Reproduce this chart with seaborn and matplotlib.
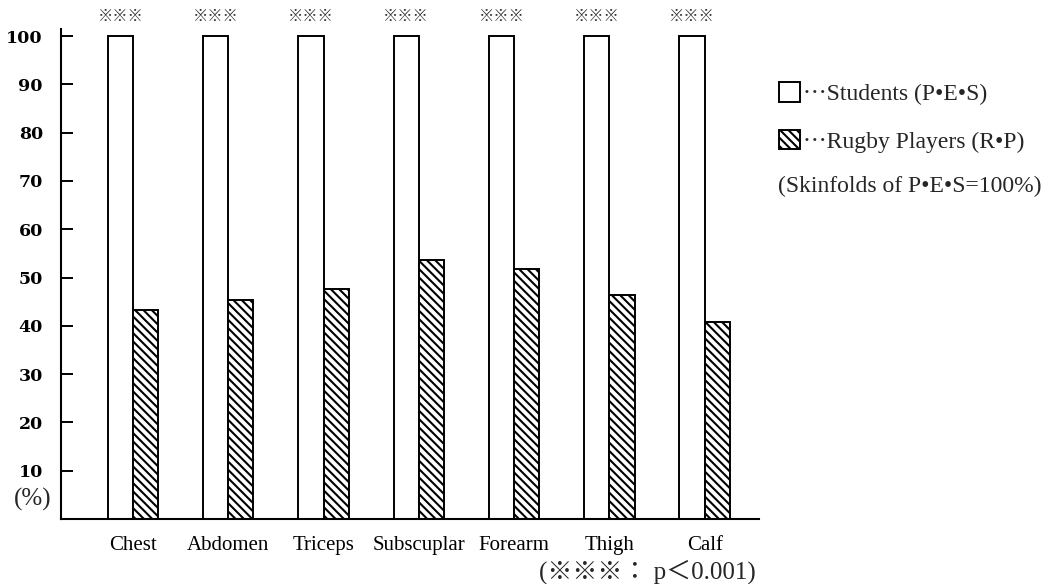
import matplotlib
matplotlib.use("Agg")
import matplotlib.pyplot as plt
import seaborn as sns
import pandas as pd

# Skinfold thickness of rugby players relative to P.E. students (= 100 %)
sites = ["Chest", "Abdomen", "Triceps", "Subscuplar", "Forearm", "Thigh", "Calf"]
students = [100, 100, 100, 100, 100, 100, 100]
rugby = [43.2, 45.4, 47.6, 53.6, 51.8, 46.3, 40.7]
y_ticks = [10, 20, 30, 40, 50, 60, 70, 80, 90, 100]
group_labels = ["\u22efStudents (P\u2022E\u2022S)", "\u22efRugby Players (R\u2022P)"]
note_ratio = "(Skinfolds of P\u2022E\u2022S=100%)"
note_sig = "(\u203b\u203b\u203b\uff1a p\uff1c0.001)"
sig_mark = "\u203b\u203b\u203b"
unit_label = "(%)"

df = pd.DataFrame({
    "site": sites * 2,
    "value": students + rugby,
    "group": [group_labels[0]] * len(sites) + [group_labels[1]] * len(sites),
})

sns.set_theme(style="white")
plt.rcParams["font.family"] = ["Liberation Serif", "DejaVu Serif", "Noto Sans CJK JP"]
plt.rcParams["hatch.linewidth"] = 1.5

W, H = 1062, 584
fig = plt.figure(figsize=(W / 100, H / 100), dpi=100)
ax = fig.add_axes([61 / W, (H - 519) / H, (759 - 61) / W, (519 - 29) / H])

sns.barplot(data=df, x="site", y="value", hue="group", order=sites,
            hue_order=group_labels, palette=["white", "white"], saturation=1,
            edgecolor="black", linewidth=1.4, width=0.53, gap=0,
            legend=False, ax=ax)
for bar in ax.containers[1]:
    bar.set_hatch("\\\\\\\\")

ax.set_xlim(-0.755, 6.57)
ax.set_ylim(0, 101.45)
ax.set_yticks(y_ticks)
ax.set_yticklabels([str(t) for t in y_ticks])
ax.set_xlabel("")
ax.set_ylabel("")

for side in ["top", "right"]:
    ax.spines[side].set_visible(False)
for side in ["left", "bottom"]:
    ax.spines[side].set_color("black")
    ax.spines[side].set_linewidth(1.5)

ax.tick_params(axis="y", direction="in", length=8.5, width=1.4, pad=13,
               colors="black", labelsize=12.5, left=True)
ax.tick_params(axis="x", length=0, pad=12, labelsize=15, colors="black")
for lbl in ax.get_yticklabels():
    lbl.set_fontfamily("DejaVu Serif")
    lbl.set_fontweight("bold")

# significance marks above each student bar
for bar, val in zip(ax.containers[0], students):
    ax.text(bar.get_x() + bar.get_width() / 2, val + 4.2, sig_mark,
            ha="center", va="center", fontsize=11, fontweight="bold",
            clip_on=False, family=["Noto Sans CJK JP"])

fig.text(33 / W, 1 - 499 / H, unit_label, ha="center", va="center", fontsize=18)

handles = [ax.containers[0][0], ax.containers[1][0]]
fig.legend(handles, group_labels, loc="upper left",
           bbox_to_anchor=(779 / W, 1 - 82 / H), frameon=False,
           fontsize=17, handlelength=0.9, handleheight=0.9,
           handletextpad=0.1, labelspacing=1.05, borderpad=0,
           borderaxespad=0)
fig.text(778 / W, 1 - 186 / H, note_ratio, ha="left", va="center", fontsize=17)
fig.text(539 / W, 1 - 572 / H, note_sig, ha="left", va="center", fontsize=18)

fig.savefig("out.png", dpi=100, facecolor="white")
